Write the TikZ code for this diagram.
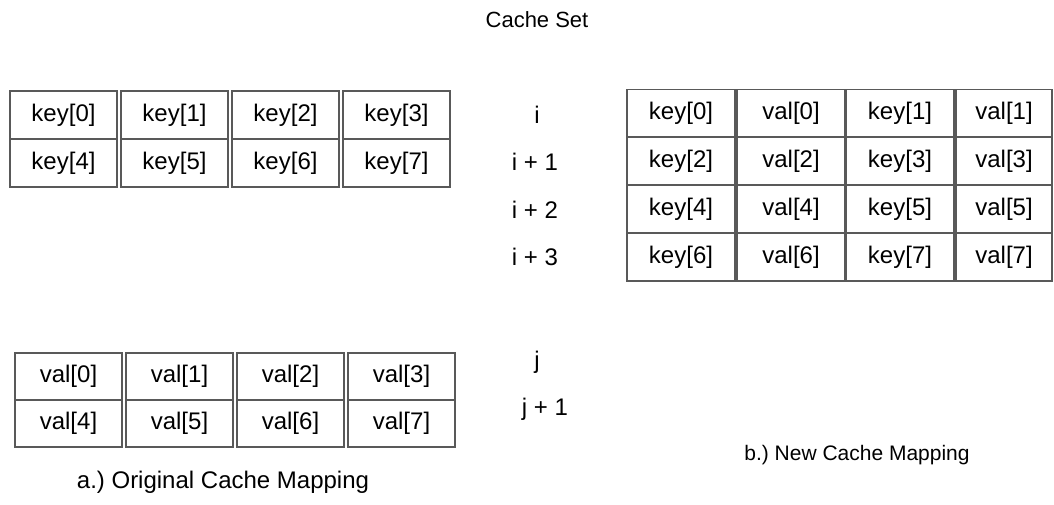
\documentclass[tikz,border=0pt]{standalone}
\usepackage{fontspec}
\setmainfont{Liberation Sans}
\begin{document}
\frenchspacing
\begin{tikzpicture}[x=1pt,y=-1pt,
  txt/.style={font=\fontsize{24}{28}\selectfont, inner sep=0pt},
  cell/.style={txt, draw=black!65, line width=1.1pt, minimum width=107pt,
               minimum height=48pt, anchor=center},
  vcell/.style={cell, minimum height=47pt},
  rcell/.style={cell, minimum width=108pt},
  lastcell/.style={cell, minimum width=96pt}]
\useasboundingbox (0,0) rectangle (1054,505);

% title
\node[txt, font=\fontsize{22}{26}\selectfont] (title) at (537,20) {Cache Set};

% a.) original mapping: keys
\node[cell] (k0) at (63.5,115) {key[0]};
\node[cell] (k1) at (174.5,115) {key[1]};
\node[cell] (k2) at (285.5,115) {key[2]};
\node[cell] (k3) at (396.5,115) {key[3]};
\node[cell] (k4) at (63.5,163) {key[4]};
\node[cell] (k5) at (174.5,163) {key[5]};
\node[cell] (k6) at (285.5,163) {key[6]};
\node[cell] (k7) at (396.5,163) {key[7]};

% a.) original mapping: values
\node[vcell] (v0) at (68.5,376.5) {val[0]};
\node[vcell] (v1) at (179.5,376.5) {val[1]};
\node[vcell] (v2) at (290.5,376.5) {val[2]};
\node[vcell] (v3) at (401.5,376.5) {val[3]};
\node[vcell] (v4) at (68.5,423.5) {val[4]};
\node[vcell] (v5) at (179.5,423.5) {val[5]};
\node[vcell] (v6) at (290.5,423.5) {val[6]};
\node[vcell] (v7) at (401.5,423.5) {val[7]};

\node[txt] (capa) at (223,482) {a.) Original Cache Mapping};

% set indices
\node[txt] (si0) at (537,115) {i};
\node[txt] (si1) at (535,162) {i + 1};
\node[txt] (si2) at (535,210) {i + 2};
\node[txt] (si3) at (535,257) {i + 3};
\node[txt] (sj0) at (537,362) {j};
\node[txt] (sj1) at (545,409) {j + 1};

% b.) new mapping: interleaved keys and values
\node[rcell] (n00) at (681,113.5) {key[0]};
\node[rcell] (n01) at (791,113.5) {val[0]};
\node[rcell] (n02) at (900,113.5) {key[1]};
\node[lastcell] (n03) at (1004,113.5) {val[1]};
\node[rcell] (n10) at (681,161) {key[2]};
\node[rcell] (n11) at (791,161) {val[2]};
\node[rcell] (n12) at (900,161) {key[3]};
\node[lastcell] (n13) at (1004,161) {val[3]};
\node[rcell] (n20) at (681,209) {key[4]};
\node[rcell] (n21) at (791,209) {val[4]};
\node[rcell] (n22) at (900,209) {key[5]};
\node[lastcell] (n23) at (1004,209) {val[5]};
\node[rcell] (n30) at (681,257) {key[6]};
\node[rcell] (n31) at (791,257) {val[6]};
\node[rcell] (n32) at (900,257) {key[7]};
\node[lastcell] (n33) at (1004,257) {val[7]};

\node[txt, font=\fontsize{21}{25}\selectfont] (capb) at (857,455) {b.) New Cache Mapping};
\end{tikzpicture}
\end{document}
